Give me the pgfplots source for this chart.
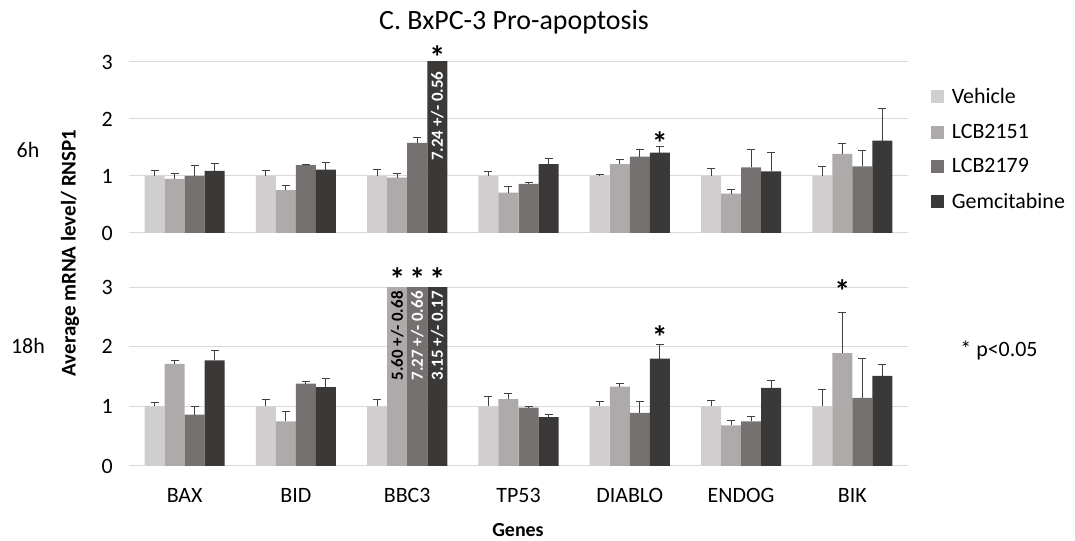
\documentclass[border=0pt]{standalone}
\usepackage{fontspec}
\setmainfont{Carlito}
\usepackage{pgfplots}
\usepackage{pgfplotstable}
\pgfplotsset{compat=1.18}
\definecolor{cveh}{HTML}{D0CECE}
\definecolor{cla}{HTML}{AEAAAA}
\definecolor{clb}{HTML}{767171}
\definecolor{cgem}{HTML}{3B3838}
\definecolor{gridc}{HTML}{D9D9D9}
\definecolor{errc}{HTML}{404040}
\newcommand\myfs[1]{\fontsize{#1}{#1}\selectfont}

% 6h
\pgfplotstableread{
x veh vehE la laE lb lbE gem gemE
0 1.00 0.09 0.95 0.10 1.00 0.19 1.09 0.13
1 1.00 0.09 0.75 0.09 1.19 0.01 1.11 0.12
2 1.00 0.12 0.97 0.07 1.58 0.09 7.24 0.56
3 1.00 0.08 0.71 0.10 0.86 0.03 1.21 0.10
4 1.00 0.03 1.21 0.08 1.34 0.12 1.41 0.10
5 1.00 0.14 0.69 0.07 1.15 0.31 1.08 0.34
6 1.00 0.16 1.39 0.18 1.17 0.28 1.62 0.57
}\tabsix
% 18h
\pgfplotstableread{
x veh vehE la laE lb lbE gem gemE
0 1.00 0.06 1.71 0.06 0.86 0.13 1.77 0.16
1 1.00 0.11 0.75 0.16 1.38 0.04 1.32 0.15
2 1.00 0.12 5.60 0.68 7.27 0.66 3.15 0.17
3 1.00 0.16 1.12 0.09 0.98 0.01 0.82 0.04
4 1.00 0.08 1.33 0.05 0.89 0.19 1.80 0.23
5 1.00 0.10 0.68 0.09 0.75 0.08 1.31 0.13
6 1.00 0.28 1.89 0.68 1.14 0.66 1.51 0.19
}\tabeight

\pgfplotsset{
  panel/.style={
    width=779bp, scale only axis,
    xmin=-0.5, xmax=6.5, ymin=0, ymax=3,
    ytick={0,1,2,3},
    ymajorgrids,
    major grid style={draw=gridc, line width=1bp},
    axis line style={draw=none},
    major tick length=0pt,
    clip mode=individual,
    /pgf/number format/assume math mode=true,
    yticklabel style={font=\myfs{22}, inner sep=0pt, xshift=-16bp},
  },
  mybar/.style={
    ybar, bar width=20bp, bar shift=0pt, fill=#1, draw=none, forget plot,
    error bars/.cd, y dir=plus, y explicit,
    error bar style={line width=1bp, draw=errc},
    error mark options={rotate=90, line width=1bp, draw=errc, mark size=4bp},
  },
}
\tikzset{
  star/.style={font=\bfseries\myfs{32}, inner sep=0pt, yshift=-5.5bp},
  inbar/.style={font=\bfseries\myfs{17}, rotate=90, inner sep=0pt},
}

\begin{document}
\begin{tikzpicture}
\useasboundingbox (0bp,0bp) rectangle (1075bp,541bp);

% top panel 6h
\begin{axis}[panel, at={(129bp,308bp)}, anchor=south west, height=171bp,
  xtick=\empty,
  legend cell align=left,
  legend style={at={(1.026,0.86)}, anchor=north west, draw=none, fill=none,
    font=\myfs{22}, nodes={inner sep=0pt}, row sep=19bp, column sep=8bp},
]
\addplot[mybar=cveh] table[x expr=\thisrow{x}-0.27, y=veh, y error=vehE] {\tabsix};
\addplot[mybar=cla]  table[x expr=\thisrow{x}-0.09, y=la,  y error=laE]  {\tabsix};
\addplot[mybar=clb]  table[x expr=\thisrow{x}+0.09, y=lb,  y error=lbE]  {\tabsix};
\addplot[mybar=cgem] table[x expr=\thisrow{x}+0.27, y=gem, y error=gemE] {\tabsix};
\addlegendimage{legend image code/.code={\fill[cveh] (0bp,-6bp) rectangle (12bp,6bp);}}
\addlegendentry{Vehicle}
\addlegendimage{legend image code/.code={\fill[cla] (0bp,-6bp) rectangle (12bp,6bp);}}
\addlegendentry{LCB2151}
\addlegendimage{legend image code/.code={\fill[clb] (0bp,-6bp) rectangle (12bp,6bp);}}
\addlegendentry{LCB2179}
\addlegendimage{legend image code/.code={\fill[cgem] (0bp,-6bp) rectangle (12bp,6bp);}}
\addlegendentry{Gemcitabine}
\node[inbar, text=white] at (axis cs:2.27,2.05) {7.24 +/- 0.56};
\node[star] at (axis cs:2.27,3.19) {*};
\node[star] at (axis cs:4.27,1.667) {*};
\end{axis}

% bottom panel 18h
\begin{axis}[panel, at={(129bp,75bp)}, anchor=south west, height=179bp,
  xtick={0,1,2,3,4,5,6},
  xticklabels={BAX,BID,BBC3,TP53,DIABLO,ENDOG,BIK},
  xticklabel style={font=\myfs{22}, anchor=north, inner sep=0pt, yshift=-22bp},
]
\addplot[mybar=cveh] table[x expr=\thisrow{x}-0.27, y=veh, y error=vehE] {\tabeight};
\addplot[mybar=cla]  table[x expr=\thisrow{x}-0.09, y=la,  y error=laE]  {\tabeight};
\addplot[mybar=clb]  table[x expr=\thisrow{x}+0.09, y=lb,  y error=lbE]  {\tabeight};
\addplot[mybar=cgem] table[x expr=\thisrow{x}+0.27, y=gem, y error=gemE] {\tabeight};
\node[inbar, text=black] at (axis cs:1.91,2.18) {5.60 +/- 0.68};
\node[inbar, text=white] at (axis cs:2.09,2.18) {7.27 +/- 0.66};
\node[inbar, text=white] at (axis cs:2.27,2.18) {3.15 +/- 0.17};
\node[star] at (axis cs:1.91,3.23) {*};
\node[star] at (axis cs:2.09,3.23) {*};
\node[star] at (axis cs:2.27,3.23) {*};
\node[star] at (axis cs:4.27,2.245) {*};
\node[star] at (axis cs:5.91,3.03) {*};
\end{axis}

\node[font=\myfs{28}, anchor=base] at (514bp,511bp) {C. BxPC-3 Pro-apoptosis};
\node[font=\myfs{22}] at (28bp,391bp) {6h};
\node[font=\myfs{22}] at (28bp,195bp) {18h};
\node[font=\bfseries\myfs{21}, rotate=90] at (70bp,288bp) {Average mRNA level/ RNSP1};
\node[font=\bfseries\myfs{20}] at (518bp,11bp) {Genes};
\node[font=\myfs{22}] at (999bp,191bp) {* p<0.05};
\end{tikzpicture}
\end{document}
